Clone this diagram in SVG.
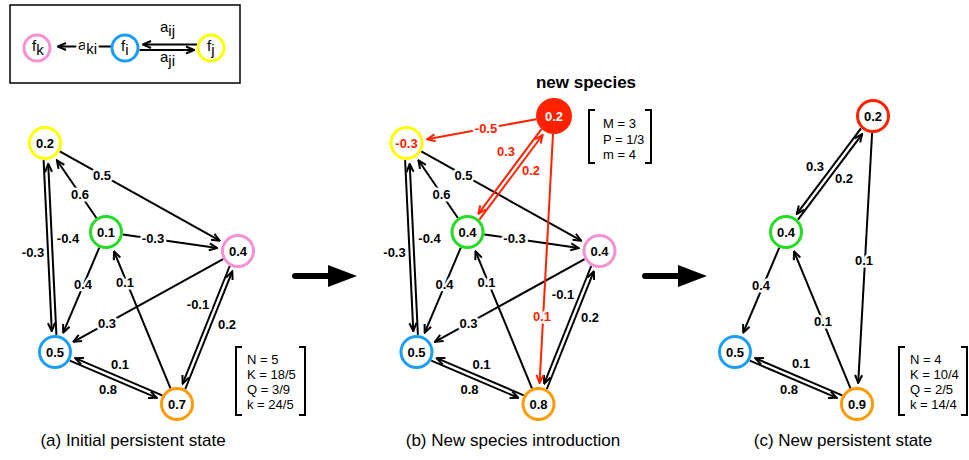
<svg xmlns="http://www.w3.org/2000/svg" width="969" height="460" viewBox="0 0 969 460">
<defs>
<marker id="ah" viewBox="0 0 10 10" refX="9" refY="5" markerWidth="10" markerHeight="10" markerUnits="userSpaceOnUse" orient="auto"><path d="M1,1.5 L9,5 L1,8.5" fill="none" stroke="#000" stroke-width="2"/></marker>
<marker id="ahr" viewBox="0 0 10 10" refX="9" refY="5" markerWidth="10" markerHeight="10" markerUnits="userSpaceOnUse" orient="auto"><path d="M1,1.5 L9,5 L1,8.5" fill="none" stroke="#ff2200" stroke-width="2"/></marker>
</defs>
<style>
text{font-family:"Liberation Sans",Arial,sans-serif;}
.n{fill:#fff;stroke-width:3;}
.nl{font-size:13px;font-weight:bold;text-anchor:middle;dominant-baseline:central;}
.el{font-size:13px;font-weight:bold;text-anchor:middle;dominant-baseline:central;stroke:#fff;stroke-width:5;stroke-linejoin:round;paint-order:stroke;fill:#000;}
.red{fill:#ff2200;}
.e{stroke:#000;stroke-width:2;fill:none;marker-end:url(#ah);}
.er{stroke:#ff2200;stroke-width:2;fill:none;marker-end:url(#ahr);}
.st{font-size:13px;}
.br{fill:none;stroke:#000;stroke-width:2;}
.cap{font-size:17px;text-anchor:middle;}
.lg{font-size:15px;}
.yel{stroke:#ffff00;}.grn{stroke:#22dd22;}.pnk{stroke:#f78fd3;}.blu{stroke:#1a9ef5;}.org{stroke:#ff9a00;}.rd{stroke:#ff2200;}
</style>
<rect width="969" height="460" fill="#fff"/>

<!-- Legend -->
<g id="legend">
<rect x="10" y="5" width="230" height="78" fill="none" stroke="#000" stroke-width="1.5"/>
<line x1="111" y1="46.5" x2="58" y2="46.5" class="e"/>
<line x1="197" y1="44.5" x2="143" y2="44.5" class="e"/>
<line x1="139.5" y1="50" x2="194" y2="50" class="e"/>
<text class="lg" x="78" y="50" stroke="#fff" stroke-width="5" stroke-linejoin="round" paint-order="stroke">a<tspan dy="4">ki</tspan></text>
<text class="lg" x="160" y="32">a<tspan dy="4">ij</tspan></text>
<text class="lg" x="160" y="62">a<tspan dy="4">ji</tspan></text>
<circle cx="37" cy="48" r="13" class="n pnk"/>
<circle cx="125" cy="48" r="13" class="n blu"/>
<circle cx="211" cy="48" r="13" class="n yel"/>
<text class="lg" x="32" y="51">f<tspan dy="4">k</tspan></text>
<text class="lg" x="121" y="51">f<tspan dy="4">i</tspan></text>
<text class="lg" x="207" y="51">f<tspan dy="4">j</tspan></text>
</g>

<!-- Connectors -->
<g id="connectors">
<!-- panel a -->
<line x1="59.8" y1="151.3" x2="219.7" y2="240.7" class="e"/>
<line x1="96.4" y1="218" x2="56.9" y2="160.3" class="e"/>
<line x1="122.8" y1="234.4" x2="217.2" y2="248" class="e"/>
<line x1="43.6" y1="160.1" x2="51.8" y2="331.1" class="e"/>
<line x1="56.4" y1="334.9" x2="48.2" y2="163.9" class="e"/>
<line x1="99.3" y1="247.6" x2="63.2" y2="332.7" class="e"/>
<line x1="170.5" y1="388.3" x2="114" y2="251.4" class="e"/>
<line x1="223.1" y1="259.2" x2="73.4" y2="341.9" class="e"/>
<line x1="229.7" y1="266" x2="182.7" y2="383.7" class="e"/>
<line x1="185.3" y1="389" x2="232.3" y2="271.3" class="e"/>
<line x1="162.2" y1="395.3" x2="75.2" y2="358.2" class="e"/>
<line x1="69.8" y1="360.7" x2="156.8" y2="397.8" class="e"/>
<text class="el" x="102" y="175">0.5</text>
<text class="el" x="80" y="194">0.6</text>
<text class="el" x="153" y="238">-0.3</text>
<text class="el" x="33" y="252">-0.3</text>
<text class="el" x="68" y="238">-0.4</text>
<text class="el" x="83" y="284">0.4</text>
<text class="el" x="125" y="282">0.1</text>
<text class="el" x="107" y="323">0.3</text>
<text class="el" x="198" y="304">-0.1</text>
<text class="el" x="227" y="324">0.2</text>
<text class="el" x="120" y="364">0.1</text>
<text class="el" x="108" y="389">0.8</text>

<!-- panel b -->
<g transform="translate(361.5,0)">
<line x1="59.8" y1="151.3" x2="219.7" y2="240.7" class="e"/>
<line x1="96.4" y1="218" x2="56.9" y2="160.3" class="e"/>
<line x1="122.8" y1="234.4" x2="217.2" y2="248" class="e"/>
<line x1="43.6" y1="160.1" x2="51.8" y2="331.1" class="e"/>
<line x1="56.4" y1="334.9" x2="48.2" y2="163.9" class="e"/>
<line x1="99.3" y1="247.6" x2="63.2" y2="332.7" class="e"/>
<line x1="170.5" y1="388.3" x2="114" y2="251.4" class="e"/>
<line x1="223.1" y1="259.2" x2="73.4" y2="341.9" class="e"/>
<line x1="229.7" y1="266" x2="182.7" y2="383.7" class="e"/>
<line x1="185.3" y1="389" x2="232.3" y2="271.3" class="e"/>
<line x1="162.2" y1="395.3" x2="75.2" y2="358.2" class="e"/>
<line x1="69.8" y1="360.7" x2="156.8" y2="397.8" class="e"/>
<text class="el" x="102" y="175">0.5</text>
<text class="el" x="80" y="194">0.6</text>
<text class="el" x="153" y="238">-0.3</text>
<text class="el" x="33" y="252">-0.3</text>
<text class="el" x="68" y="238">-0.4</text>
<text class="el" x="83" y="284">0.4</text>
<text class="el" x="125" y="282">0.1</text>
<text class="el" x="107" y="323">0.3</text>
<text class="el" x="120" y="364">0.1</text>
<text class="el" x="108" y="389">0.8</text>
</g>
<text class="el" x="563" y="294">-0.1</text>
<text class="el" x="590" y="317">0.2</text>
<line x1="536.3" y1="119.2" x2="427.2" y2="139.2" class="er"/>
<line x1="541.5" y1="129.1" x2="478.3" y2="213.8" class="er"/>
<line x1="479.4" y1="219.7" x2="542.6" y2="135" class="er"/>
<line x1="553" y1="134" x2="539.6" y2="383" class="er"/>
<text class="el red" x="486" y="128">-0.5</text>
<text class="el red" x="506" y="151">0.3</text>
<text class="el red" x="531" y="170">0.2</text>
<text class="el red" x="542" y="316">0.1</text>

<!-- panel c -->
<line x1="861" y1="128.3" x2="796.8" y2="213.9" class="e"/>
<line x1="798" y1="219.7" x2="862.2" y2="134.1" class="e"/>
<line x1="872.1" y1="133" x2="858.2" y2="383" class="e"/>
<line x1="779.3" y1="247.6" x2="743.2" y2="332.7" class="e"/>
<line x1="850.5" y1="388.3" x2="794" y2="251.4" class="e"/>
<line x1="842.2" y1="395.3" x2="755.2" y2="358.2" class="e"/>
<line x1="749.8" y1="360.7" x2="836.8" y2="397.8" class="e"/>
<text class="el" x="815" y="166">0.3</text>
<text class="el" x="844" y="178">0.2</text>
<text class="el" x="864" y="260">0.1</text>
<text class="el" x="761" y="285">0.4</text>
<text class="el" x="823" y="321">0.1</text>
<text class="el" x="801" y="363">0.1</text>
<text class="el" x="789" y="389">0.8</text>
</g>

<!-- Panel a nodes -->
<g id="a-yellow"><circle cx="45" cy="143" r="15.5" class="n yel"/><text class="nl" x="45" y="143">0.2</text></g>
<g id="a-green"><circle cx="106" cy="232" r="15.5" class="n grn"/><text class="nl" x="106" y="232">0.1</text></g>
<g id="a-pink"><circle cx="238" cy="251" r="15.5" class="n pnk"/><text class="nl" x="238" y="251">0.4</text></g>
<g id="a-blue"><circle cx="55" cy="352" r="15.5" class="n blu"/><text class="nl" x="55" y="352">0.5</text></g>
<g id="a-orange"><circle cx="177" cy="404" r="15.5" class="n org"/><text class="nl" x="177" y="404">0.7</text></g>

<!-- Panel b nodes -->
<g id="b-yellow"><circle cx="406.5" cy="143" r="15.5" class="n yel"/><text class="nl red" x="406.5" y="143">-0.3</text></g>
<g id="b-green"><circle cx="467.5" cy="232" r="15.5" class="n grn"/><text class="nl" x="467.5" y="232">0.4</text></g>
<g id="b-pink"><circle cx="599.5" cy="251" r="15.5" class="n pnk"/><text class="nl" x="599.5" y="251">0.4</text></g>
<g id="b-blue"><circle cx="416.5" cy="352" r="15.5" class="n blu"/><text class="nl" x="416.5" y="352">0.5</text></g>
<g id="b-orange"><circle cx="538.5" cy="404" r="15.5" class="n org"/><text class="nl" x="538.5" y="404">0.8</text></g>
<g id="b-red"><circle cx="554" cy="116" r="18" fill="#ff2200"/><text class="nl" x="554" y="116" fill="#fff">0.2</text></g>
<text x="586" y="88" font-size="17" font-weight="bold" text-anchor="middle">new species</text>

<!-- Panel c nodes -->
<g id="c-red"><circle cx="873" cy="116" r="15.5" class="n rd"/><text class="nl" x="873" y="116">0.2</text></g>
<g id="c-green"><circle cx="786" cy="232" r="15.5" class="n grn"/><text class="nl" x="786" y="232">0.4</text></g>
<g id="c-blue"><circle cx="735" cy="352" r="15.5" class="n blu"/><text class="nl" x="735" y="352">0.5</text></g>
<g id="c-orange"><circle cx="857" cy="404" r="15.5" class="n org"/><text class="nl" x="857" y="404">0.9</text></g>

<!-- Stat boxes -->
<g id="stats-a">
<path class="br" d="M242,347 H236 V415 H242 M299,347 H305 V415 H299"/>
<text class="st" x="247" y="364">N = 5</text>
<text class="st" x="247" y="379">K = 18/5</text>
<text class="st" x="247" y="394">Q = 3/9</text>
<text class="st" x="247" y="409">k = 24/5</text>
</g>
<g id="stats-b">
<path class="br" d="M595,110 H589 V163 H595 M645,110 H651 V163 H645"/>
<text class="st" x="603" y="128">M = 3</text>
<text class="st" x="603" y="143.5">P = 1/3</text>
<text class="st" x="603" y="159">m = 4</text>
</g>
<g id="stats-c">
<path class="br" d="M905,347 H899 V415 H905 M961,347 H967 V415 H961"/>
<text class="st" x="910" y="364">N = 4</text>
<text class="st" x="910" y="379">K = 10/4</text>
<text class="st" x="910" y="394">Q = 2/5</text>
<text class="st" x="910" y="409">k = 14/4</text>
</g>

<!-- Big arrows -->
<g id="arrow1"><line x1="295" y1="276" x2="332" y2="276" stroke="#000" stroke-width="6" stroke-linecap="round"/><polygon points="328,265 357,276 328,287" fill="#000"/></g>
<g id="arrow2"><line x1="645" y1="276" x2="682" y2="276" stroke="#000" stroke-width="6" stroke-linecap="round"/><polygon points="678,265 707,276 678,287" fill="#000"/></g>

<!-- Captions -->
<text class="cap" x="133" y="446">(a) Initial persistent state</text>
<text class="cap" x="513" y="446">(b) New species introduction</text>
<text class="cap" x="843" y="446">(c) New persistent state</text>
</svg>
